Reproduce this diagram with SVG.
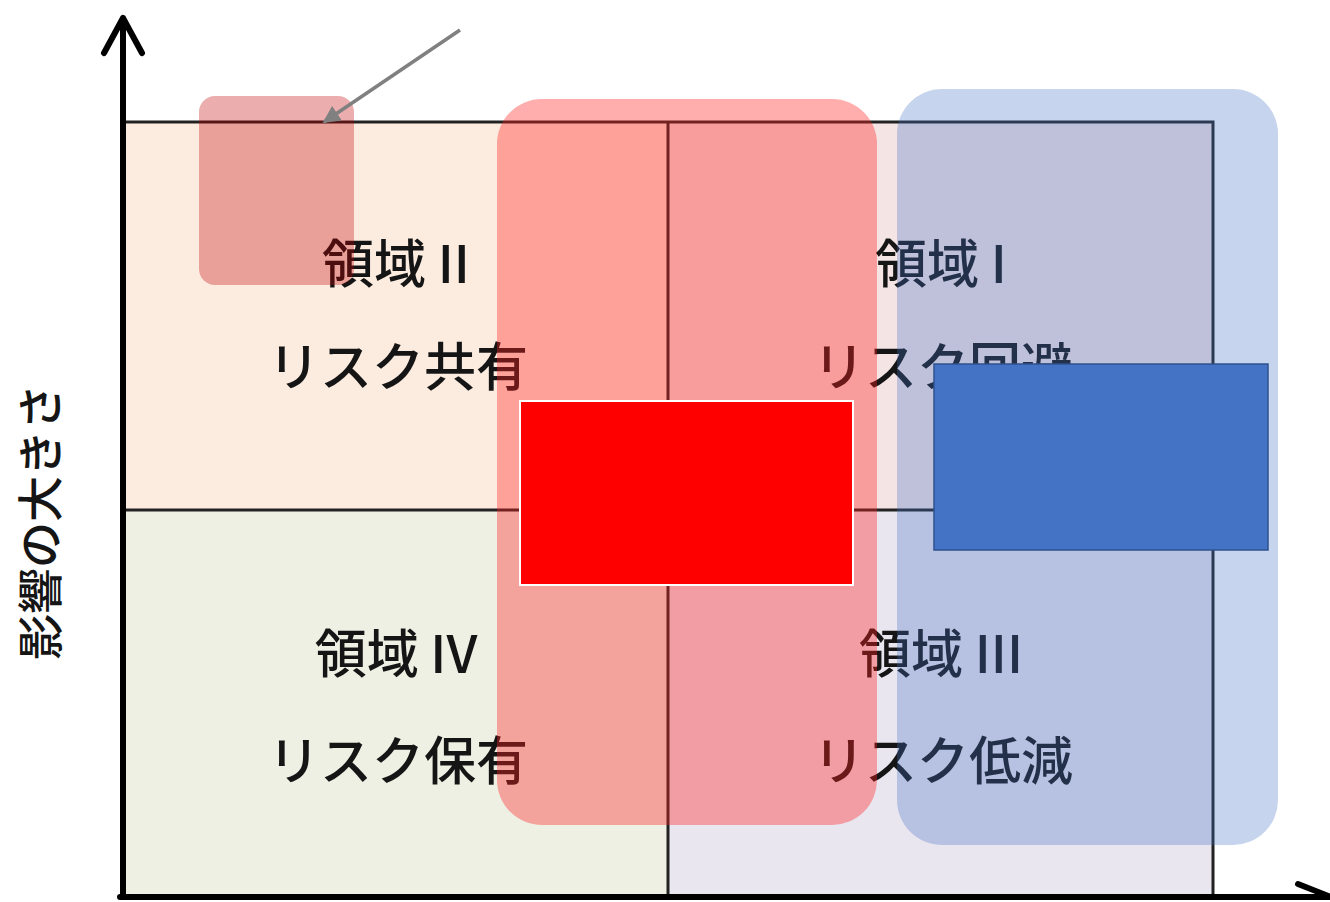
<svg xmlns="http://www.w3.org/2000/svg" width="1330" height="902" viewBox="0 0 1330 902">
<defs>
<style>
.q{font-family:"Noto Sans CJK JP","Noto Sans",sans-serif;font-size:52px;font-weight:500;fill:#151515;text-anchor:middle}
.grid{stroke:#222;stroke-width:3;fill:none}
.axis{stroke:#000;stroke-width:6;fill:none;stroke-linecap:round;stroke-linejoin:round}
</style>
<marker id="ah" viewBox="0 0 10 10" refX="9" refY="5" markerWidth="5" markerHeight="5" orient="auto-start-reverse" markerUnits="strokeWidth">
<path d="M0,0 L10,5 L0,10 z" fill="#808080"/>
</marker>
</defs>
<rect width="1330" height="902" fill="#ffffff"/>
<g id="quadrants">
<rect x="125" y="122" width="543" height="388" fill="#fcece0"/>
<rect x="668" y="122" width="545" height="388" fill="#f4e4e4"/>
<rect x="125" y="510" width="543" height="387" fill="#eef0e4"/>
<rect x="668" y="510" width="545" height="387" fill="#e9e6ef"/>
<path class="grid" d="M125,122 H1213 V897 M668,122 V897 M125,510 H1213"/>
</g>
<g id="labels">
<text class="q" x="396" y="283">領域 II</text>
<text class="q" x="398" y="386">リスク共有</text>
<text class="q" x="941" y="283">領域 I</text>
<text class="q" x="943" y="386">リスク回避</text>
<text class="q" x="396" y="673">領域 IV</text>
<text class="q" x="398" y="780">リスク保有</text>
<text class="q" x="941" y="673">領域 III</text>
<text class="q" x="943" y="780">リスク低減</text>
<text class="q" transform="translate(57,522) rotate(-90)" style="font-size:46px">影響の大きさ</text>
</g>
<g id="axes">
<path class="axis" d="M123,897 V18 M104,53 L123,18 L142,53"/>
<path class="axis" d="M120,897 H1340 M1298,884 L1336,899"/>
</g>
<g id="overlays">
<rect id="small-highlight" x="199" y="96" width="155" height="189" rx="16" fill="#c00000" opacity="0.32"/>
<rect id="red-band" x="497" y="99" width="380" height="726" rx="45" fill="#ff2020" opacity="0.37"/>
<rect id="blue-band" x="897" y="89" width="381" height="756" rx="45" fill="#4472c4" opacity="0.3"/>
</g>
<g id="boxes">
<rect id="red-box" x="520" y="401" width="333" height="184" fill="#ff0000" stroke="#ffffff" stroke-width="2"/>
<rect id="blue-box" x="934" y="364" width="334" height="186" fill="#4472c4" stroke="#2f528f" stroke-width="1.5"/>
</g>
<g id="connectors">
<line x1="460" y1="30" x2="324" y2="122" stroke="#808080" stroke-width="3.5" marker-end="url(#ah)"/>
</g>
</svg>
